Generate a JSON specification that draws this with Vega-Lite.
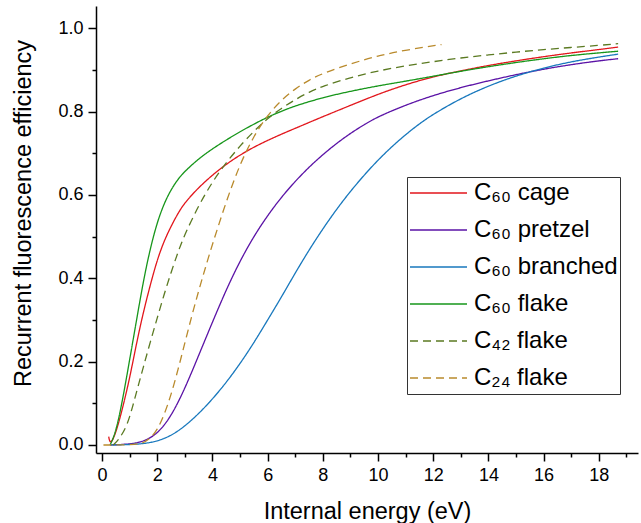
{
  "$schema": "https://vega.github.io/schema/vega-lite/v6.json",
  "width": 542,
  "height": 447,
  "autosize": {"type": "none"},
  "padding": {"left": 96, "top": 6, "right": 3, "bottom": 70},
  "background": "white",
  "config": {
    "font": "Liberation Sans",
    "view": {"stroke": null},
    "axis": {"grid": false, "domainColor": "black", "tickColor": "black", "labelColor": "black", "titleColor": "black", "domainWidth": 1.5, "tickWidth": 1.5, "labelFont": "Liberation Sans", "titleFont": "Liberation Sans", "titleFontWeight": "normal"},
    "legend": {"labelFont": "Liberation Sans"}
  },
  "data": {"values": [
    {"s":"C₆₀ cage","E":0.24,"v":0.02},{"s":"C₆₀ cage","E":0.3,"v":0},{"s":"C₆₀ cage","E":0.5,"v":0.028},{"s":"C₆₀ cage","E":0.75,"v":0.09},{"s":"C₆₀ cage","E":1.0,"v":0.16},{"s":"C₆₀ cage","E":1.25,"v":0.245},{"s":"C₆₀ cage","E":1.5,"v":0.32},{"s":"C₆₀ cage","E":1.75,"v":0.385},{"s":"C₆₀ cage","E":2.0,"v":0.445},{"s":"C₆₀ cage","E":2.25,"v":0.49},{"s":"C₆₀ cage","E":2.5,"v":0.525},{"s":"C₆₀ cage","E":2.75,"v":0.556},{"s":"C₆₀ cage","E":3.0,"v":0.582},{"s":"C₆₀ cage","E":3.5,"v":0.618},{"s":"C₆₀ cage","E":4.0,"v":0.648},{"s":"C₆₀ cage","E":4.5,"v":0.674},{"s":"C₆₀ cage","E":5.0,"v":0.696},{"s":"C₆₀ cage","E":5.5,"v":0.715},{"s":"C₆₀ cage","E":6.0,"v":0.731},{"s":"C₆₀ cage","E":6.5,"v":0.746},{"s":"C₆₀ cage","E":7.0,"v":0.76},{"s":"C₆₀ cage","E":7.5,"v":0.774},{"s":"C₆₀ cage","E":8.0,"v":0.788},{"s":"C₆₀ cage","E":9.0,"v":0.815},{"s":"C₆₀ cage","E":10.0,"v":0.842},{"s":"C₆₀ cage","E":11.0,"v":0.865},{"s":"C₆₀ cage","E":12.0,"v":0.884},{"s":"C₆₀ cage","E":13.0,"v":0.898},{"s":"C₆₀ cage","E":14.0,"v":0.911},{"s":"C₆₀ cage","E":15.0,"v":0.922},{"s":"C₆₀ cage","E":16.0,"v":0.932},{"s":"C₆₀ cage","E":17.0,"v":0.941},{"s":"C₆₀ cage","E":18.0,"v":0.949},{"s":"C₆₀ cage","E":18.7,"v":0.955},

    {"s":"C₆₀ pretzel","E":0.3,"v":0},{"s":"C₆₀ pretzel","E":1.0,"v":0.002},{"s":"C₆₀ pretzel","E":1.5,"v":0.008},{"s":"C₆₀ pretzel","E":2.0,"v":0.026},{"s":"C₆₀ pretzel","E":2.5,"v":0.068},{"s":"C₆₀ pretzel","E":3.0,"v":0.135},{"s":"C₆₀ pretzel","E":3.5,"v":0.215},{"s":"C₆₀ pretzel","E":4.0,"v":0.295},{"s":"C₆₀ pretzel","E":4.5,"v":0.373},{"s":"C₆₀ pretzel","E":5.0,"v":0.442},{"s":"C₆₀ pretzel","E":5.5,"v":0.501},{"s":"C₆₀ pretzel","E":6.0,"v":0.551},{"s":"C₆₀ pretzel","E":6.5,"v":0.595},{"s":"C₆₀ pretzel","E":7.0,"v":0.633},{"s":"C₆₀ pretzel","E":7.5,"v":0.667},{"s":"C₆₀ pretzel","E":8.0,"v":0.697},{"s":"C₆₀ pretzel","E":8.5,"v":0.724},{"s":"C₆₀ pretzel","E":9.0,"v":0.748},{"s":"C₆₀ pretzel","E":9.5,"v":0.769},{"s":"C₆₀ pretzel","E":10.0,"v":0.788},{"s":"C₆₀ pretzel","E":11.0,"v":0.816},{"s":"C₆₀ pretzel","E":12.0,"v":0.839},{"s":"C₆₀ pretzel","E":13.0,"v":0.858},{"s":"C₆₀ pretzel","E":14.0,"v":0.874},{"s":"C₆₀ pretzel","E":15.0,"v":0.889},{"s":"C₆₀ pretzel","E":16.0,"v":0.902},{"s":"C₆₀ pretzel","E":17.0,"v":0.913},{"s":"C₆₀ pretzel","E":18.0,"v":0.922},{"s":"C₆₀ pretzel","E":18.7,"v":0.927},

    {"s":"C₆₀ branched","E":0.3,"v":0},{"s":"C₆₀ branched","E":1.0,"v":0.001},{"s":"C₆₀ branched","E":1.5,"v":0.003},{"s":"C₆₀ branched","E":2.0,"v":0.009},{"s":"C₆₀ branched","E":2.5,"v":0.022},{"s":"C₆₀ branched","E":3.0,"v":0.045},{"s":"C₆₀ branched","E":3.5,"v":0.075},{"s":"C₆₀ branched","E":4.0,"v":0.11},{"s":"C₆₀ branched","E":4.5,"v":0.15},{"s":"C₆₀ branched","E":5.0,"v":0.195},{"s":"C₆₀ branched","E":5.5,"v":0.245},{"s":"C₆₀ branched","E":6.0,"v":0.3},{"s":"C₆₀ branched","E":6.5,"v":0.355},{"s":"C₆₀ branched","E":7.0,"v":0.413},{"s":"C₆₀ branched","E":7.5,"v":0.468},{"s":"C₆₀ branched","E":8.0,"v":0.519},{"s":"C₆₀ branched","E":8.5,"v":0.566},{"s":"C₆₀ branched","E":9.0,"v":0.609},{"s":"C₆₀ branched","E":9.5,"v":0.648},{"s":"C₆₀ branched","E":10.0,"v":0.684},{"s":"C₆₀ branched","E":10.5,"v":0.716},{"s":"C₆₀ branched","E":11.0,"v":0.745},{"s":"C₆₀ branched","E":11.5,"v":0.771},{"s":"C₆₀ branched","E":12.0,"v":0.794},{"s":"C₆₀ branched","E":13.0,"v":0.832},{"s":"C₆₀ branched","E":14.0,"v":0.862},{"s":"C₆₀ branched","E":15.0,"v":0.886},{"s":"C₆₀ branched","E":16.0,"v":0.905},{"s":"C₆₀ branched","E":17.0,"v":0.92},{"s":"C₆₀ branched","E":18.0,"v":0.931},{"s":"C₆₀ branched","E":18.7,"v":0.938},

    {"s":"C₆₀ flake","E":0.29,"v":0},{"s":"C₆₀ flake","E":0.5,"v":0.03},{"s":"C₆₀ flake","E":0.75,"v":0.11},{"s":"C₆₀ flake","E":1.0,"v":0.205},{"s":"C₆₀ flake","E":1.25,"v":0.3},{"s":"C₆₀ flake","E":1.5,"v":0.395},{"s":"C₆₀ flake","E":1.75,"v":0.473},{"s":"C₆₀ flake","E":2.0,"v":0.535},{"s":"C₆₀ flake","E":2.25,"v":0.58},{"s":"C₆₀ flake","E":2.5,"v":0.613},{"s":"C₆₀ flake","E":2.75,"v":0.638},{"s":"C₆₀ flake","E":3.0,"v":0.657},{"s":"C₆₀ flake","E":3.5,"v":0.687},{"s":"C₆₀ flake","E":4.0,"v":0.711},{"s":"C₆₀ flake","E":4.5,"v":0.732},{"s":"C₆₀ flake","E":5.0,"v":0.752},{"s":"C₆₀ flake","E":5.5,"v":0.77},{"s":"C₆₀ flake","E":6.0,"v":0.787},{"s":"C₆₀ flake","E":6.5,"v":0.801},{"s":"C₆₀ flake","E":7.0,"v":0.814},{"s":"C₆₀ flake","E":8.0,"v":0.834},{"s":"C₆₀ flake","E":9.0,"v":0.849},{"s":"C₆₀ flake","E":10.0,"v":0.862},{"s":"C₆₀ flake","E":11.0,"v":0.873},{"s":"C₆₀ flake","E":12.0,"v":0.885},{"s":"C₆₀ flake","E":13.0,"v":0.897},{"s":"C₆₀ flake","E":14.0,"v":0.908},{"s":"C₆₀ flake","E":15.0,"v":0.918},{"s":"C₆₀ flake","E":16.0,"v":0.927},{"s":"C₆₀ flake","E":17.0,"v":0.935},{"s":"C₆₀ flake","E":18.0,"v":0.941},{"s":"C₆₀ flake","E":18.7,"v":0.945},

    {"s":"C₄₂ flake","E":0.4,"v":0},{"s":"C₄₂ flake","E":0.6,"v":0.012},{"s":"C₄₂ flake","E":0.9,"v":0.045},{"s":"C₄₂ flake","E":1.1,"v":0.09},{"s":"C₄₂ flake","E":1.3,"v":0.14},{"s":"C₄₂ flake","E":1.5,"v":0.188},{"s":"C₄₂ flake","E":1.75,"v":0.248},{"s":"C₄₂ flake","E":2.0,"v":0.305},{"s":"C₄₂ flake","E":2.25,"v":0.362},{"s":"C₄₂ flake","E":2.5,"v":0.414},{"s":"C₄₂ flake","E":2.75,"v":0.463},{"s":"C₄₂ flake","E":3.0,"v":0.506},{"s":"C₄₂ flake","E":3.5,"v":0.575},{"s":"C₄₂ flake","E":4.0,"v":0.632},{"s":"C₄₂ flake","E":4.5,"v":0.678},{"s":"C₄₂ flake","E":5.0,"v":0.718},{"s":"C₄₂ flake","E":5.5,"v":0.753},{"s":"C₄₂ flake","E":6.0,"v":0.784},{"s":"C₄₂ flake","E":6.5,"v":0.808},{"s":"C₄₂ flake","E":7.0,"v":0.829},{"s":"C₄₂ flake","E":7.5,"v":0.847},{"s":"C₄₂ flake","E":8.0,"v":0.861},{"s":"C₄₂ flake","E":9.0,"v":0.882},{"s":"C₄₂ flake","E":10.0,"v":0.898},{"s":"C₄₂ flake","E":11.0,"v":0.91},{"s":"C₄₂ flake","E":12.0,"v":0.92},{"s":"C₄₂ flake","E":13.0,"v":0.929},{"s":"C₄₂ flake","E":14.0,"v":0.936},{"s":"C₄₂ flake","E":15.0,"v":0.943},{"s":"C₄₂ flake","E":16.0,"v":0.949},{"s":"C₄₂ flake","E":17.0,"v":0.954},{"s":"C₄₂ flake","E":18.0,"v":0.959},{"s":"C₄₂ flake","E":18.7,"v":0.963},

    {"s":"C₂₄ flake","E":0.05,"v":0},{"s":"C₂₄ flake","E":1.0,"v":0},{"s":"C₂₄ flake","E":1.5,"v":0.004},{"s":"C₂₄ flake","E":1.75,"v":0.016},{"s":"C₂₄ flake","E":2.0,"v":0.036},{"s":"C₂₄ flake","E":2.25,"v":0.072},{"s":"C₂₄ flake","E":2.5,"v":0.12},{"s":"C₂₄ flake","E":2.75,"v":0.18},{"s":"C₂₄ flake","E":3.0,"v":0.245},{"s":"C₂₄ flake","E":3.25,"v":0.31},{"s":"C₂₄ flake","E":3.5,"v":0.37},{"s":"C₂₄ flake","E":3.75,"v":0.427},{"s":"C₂₄ flake","E":4.0,"v":0.482},{"s":"C₂₄ flake","E":4.5,"v":0.585},{"s":"C₂₄ flake","E":5.0,"v":0.675},{"s":"C₂₄ flake","E":5.5,"v":0.742},{"s":"C₂₄ flake","E":6.0,"v":0.792},{"s":"C₂₄ flake","E":6.5,"v":0.828},{"s":"C₂₄ flake","E":7.0,"v":0.855},{"s":"C₂₄ flake","E":7.5,"v":0.876},{"s":"C₂₄ flake","E":8.0,"v":0.892},{"s":"C₂₄ flake","E":9.0,"v":0.915},{"s":"C₂₄ flake","E":10.0,"v":0.934},{"s":"C₂₄ flake","E":11.0,"v":0.948},{"s":"C₂₄ flake","E":12.3,"v":0.961}
  ]},
  "mark": {"type": "line", "interpolate": "basis", "clip": true},
  "encoding": {
    "x": {
      "field": "E", "type": "quantitative",
      "scale": {"domain": [-0.22, 19.42], "nice": false, "zero": false},
      "axis": {
        "title": "Internal energy (eV)", "titleFontSize": 23.5, "titlePadding": 15,
        "values": [0,1,2,3,4,5,6,7,8,9,10,11,12,13,14,15,16,17,18,19],
        "labelExpr": "datum.value % 2 == 0 ? datum.label : ''",
        "labelOverlap": false, "labelFontSize": 18, "labelPadding": 5,
        "tickSize": {"condition": {"test": "datum.value % 2 != 0", "value": 4}, "value": 8}
      }
    },
    "y": {
      "field": "v", "type": "quantitative",
      "scale": {"domain": [-0.0192, 1.0535], "nice": false, "zero": false},
      "axis": {
        "title": "Recurrent fluorescence efficiency", "titleFontSize": 23.5, "titlePadding": 22, "titleY": 207,
        "values": [0,0.1,0.2,0.3,0.4,0.5,0.6,0.7,0.8,0.9,1.0],
        "format": ".1f",
        "labelExpr": "round(datum.value*10) % 2 == 0 ? datum.label : ''",
        "labelOverlap": false, "labelFontSize": 18, "labelPadding": 5,
        "tickSize": {"condition": {"test": "round(datum.value*10) % 2 != 0", "value": 4}, "value": 8}
      }
    },
    "color": {
      "field": "s", "type": "nominal", "title": null,
      "scale": {
        "domain": ["C₆₀ cage","C₆₀ pretzel","C₆₀ branched","C₆₀ flake","C₄₂ flake","C₂₄ flake"],
        "range": ["#e2161c","#5b13a6","#1878bd","#17961b","#5b7a22","#b98a2c"]
      },
      "legend": {
        "orient": "none", "legendX": 311, "legendY": 171,
        "strokeColor": "#333333", "padding": 2,
        "labelFontSize": 24, "labelColor": "black",
        "symbolType": "stroke", "symbolSize": 3249, "symbolStrokeWidth": 1.6,
        "clipHeight": 28, "rowPadding": 9, "labelOffset": 6, "labelLimit": 300
      }
    },
    "strokeDash": {
      "field": "s", "type": "nominal", "title": null,
      "scale": {
        "domain": ["C₆₀ cage","C₆₀ pretzel","C₆₀ branched","C₆₀ flake","C₄₂ flake","C₂₄ flake"],
        "range": [[1,0],[1,0],[1,0],[1,0],[8,5],[8,5]]
      }
    },
    "strokeWidth": {
      "field": "s", "type": "nominal", "title": null,
      "scale": {
        "domain": ["C₆₀ cage","C₆₀ pretzel","C₆₀ branched","C₆₀ flake","C₄₂ flake","C₂₄ flake"],
        "range": [1.3,1.3,1.3,1.3,2.1,2.1]
      }
    }
  }
}
